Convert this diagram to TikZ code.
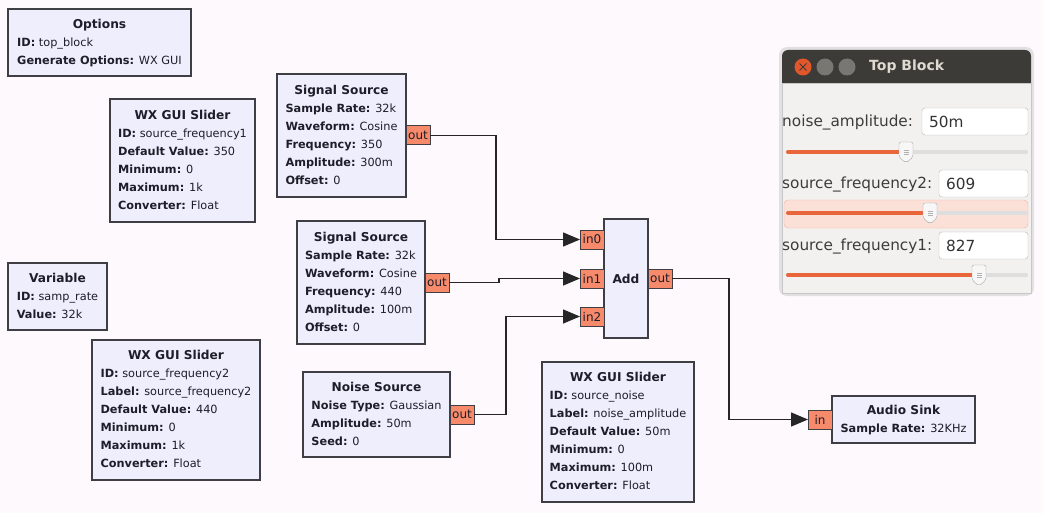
\documentclass[tikz,border=0pt]{standalone}
\usepackage{fontspec}
\setmainfont{DejaVu Sans}
\usetikzlibrary{positioning, arrows.meta}
\definecolor{canvas}{RGB}{253,249,253}
\definecolor{blkfill}{RGB}{238,238,252}
\definecolor{blkline}{RGB}{62,62,68}
\definecolor{blktext}{RGB}{30,30,42}
\definecolor{portfill}{RGB}{246,138,106}
\definecolor{wintitle}{RGB}{60,59,55}
\definecolor{winbody}{RGB}{242,241,240}
\definecolor{wintext}{RGB}{223,219,210}
\definecolor{closered}{RGB}{226,86,44}
\definecolor{btngrey}{RGB}{120,119,114}
\definecolor{uiorange}{RGB}{233,102,58}
\definecolor{labeltext}{RGB}{60,60,60}
\newcommand{\grcblk}[2]{\begin{tabular}{@{}l@{}}\multicolumn{1}{@{}c@{}}{\fontsize{12.2}{18}\selectfont\bfseries #1}\\#2\end{tabular}}

\begin{document}
\begin{tikzpicture}[x=1pt, y=-1pt,
  blk/.style={draw=blkline, fill=blkfill, line width=1.1pt, inner sep=0pt, outer sep=0pt,
              text=blktext, font=\fontsize{11.3}{18}\selectfont},
  port/.style={draw=blkline, fill=portfill, line width=1pt, inner sep=0pt, outer sep=0pt,
               minimum width=24pt, minimum height=19pt, text=blktext, font=\fontsize{12}{13}\selectfont},
  wire/.style={line width=1.3pt, black!85},
  arr/.style={wire, -{Triangle[length=17pt, width=14pt]}},
  uilabel/.style={anchor=west, inner sep=0pt, text=labeltext, font=\fontsize{15.3}{18}\selectfont},
]
\useasboundingbox (0,0) rectangle (1043,513);
\fill[canvas] (0,0) rectangle (1043,513);

% Variables and options
\node[blk, minimum width=183pt, minimum height=67pt] (opts) at (99.5,42.5)
  {\grcblk{Options}{\textbf{ID:} top\_block\\\textbf{Generate Options:} WX GUI}};
\node[blk, minimum width=99pt, minimum height=67pt] (var) at (57.5,296.5)
  {\grcblk{Variable}{\textbf{ID:} samp\_rate\\\textbf{Value:} 32k}};

% Sliders
\node[blk, minimum width=145pt, minimum height=123pt] (sld1) at (182.5,160.5)
  {\grcblk{WX GUI Slider}{\textbf{ID:} source\_frequency1\\\textbf{Default Value:} 350\\
   \textbf{Minimum:} 0\\\textbf{Maximum:} 1k\\\textbf{Converter:} Float}};
\node[blk, minimum width=168pt, minimum height=140pt] (sld2) at (176,410)
  {\grcblk{WX GUI Slider}{\textbf{ID:} source\_frequency2\\\textbf{Label:} source\_frequency2\\
   \textbf{Default Value:} 440\\\textbf{Minimum:} 0\\\textbf{Maximum:} 1k\\\textbf{Converter:} Float}};
\node[blk, minimum width=152pt, minimum height=140pt] (sld3) at (618,432)
  {\grcblk{WX GUI Slider}{\textbf{ID:} source\_noise\\\textbf{Label:} noise\_amplitude\\
   \textbf{Default Value:} 50m\\\textbf{Minimum:} 0\\\textbf{Maximum:} 100m\\\textbf{Converter:} Float}};

% Sources
\node[blk, minimum width=129pt, minimum height=123pt] (sig1) at (341.5,135.5)
  {\grcblk{Signal Source}{\textbf{Sample Rate:} 32k\\\textbf{Waveform:} Cosine\\
   \textbf{Frequency:} 350\\\textbf{Amplitude:} 300m\\\textbf{Offset:} 0}};
\node[blk, minimum width=128pt, minimum height=123pt] (sig2) at (361,282.5)
  {\grcblk{Signal Source}{\textbf{Sample Rate:} 32k\\\textbf{Waveform:} Cosine\\
   \textbf{Frequency:} 440\\\textbf{Amplitude:} 100m\\\textbf{Offset:} 0}};
\node[blk, minimum width=147pt, minimum height=85pt] (noise) at (376.5,414.5)
  {\grcblk{Noise Source}{\textbf{Noise Type:} Gaussian\\\textbf{Amplitude:} 50m\\\textbf{Seed:} 0}};

% Adder and sink
\node[blk, minimum width=44pt, minimum height=119pt, font=\fontsize{12.2}{18}\selectfont\bfseries] (add) at (626,278.5) {Add};
\node[blk, minimum width=143pt, minimum height=47pt] (sink) at (903.5,419.5)
  {\grcblk{Audio Sink}{\textbf{Sample Rate:} 32KHz}};

% Ports
\node[port, right=0pt of sig1] (sig1out) {out};
\node[port, right=0pt of sig2] (sig2out) {out};
\node[port, right=0pt of noise] (noiseout) {out};
\node[port, right=0pt of add] (addout) {out};
\node[port, left=0pt of add.west, yshift=39pt] (addin0) {in0};
\node[port, left=0pt of add.west] (addin1) {in1};
\node[port, left=0pt of add.west, yshift=-38pt] (addin2) {in2};
\node[port, left=0pt of sink] (sinkin) {in};

% Connections
\draw[arr] (sig1out.east) -- ++(66,0) |- (addin0.west);
\draw[arr] (sig2out.east) -- ++(50,0) |- (addin1.west);
\draw[arr] (noiseout.east) -- ++(32,0) |- (addin2.west);
\draw[arr] (addout.east) -- ++(57,0) |- (sinkin.west);

% Top Block window
\fill[black!30, opacity=0.35, rounded corners=8pt] (779,47) rectangle (1034,296);
\fill[wintitle, rounded corners=6pt] (782,50) rectangle (1031,92);
\fill[winbody] (782,83) rectangle (1031,293);
\draw[black!22] (782,83) rectangle (1031,293);
\node[circle, fill=closered, minimum size=17pt, inner sep=0pt] (btnclose) at (803,67) {};
\node[circle, fill=btngrey, minimum size=17pt, inner sep=0pt] (btnmin) at (825,67) {};
\node[circle, fill=btngrey, minimum size=17pt, inner sep=0pt] (btnmax) at (847,67) {};
\draw[wintitle, line width=1pt] (799.5,63.5) -- (806.5,70.5) (806.5,63.5) -- (799.5,70.5);
\draw[wintitle!70, line width=1.2pt] (821,67) -- (829,67);
\draw[wintitle!70, line width=1pt] (843.5,63.5) rectangle (850.5,70.5);
\node[anchor=west, inner sep=0pt, text=wintext, font=\fontsize{14}{16}\selectfont\bfseries] (wtitle) at (869,67) {Top Block};

\draw[fill=uiorange!20, draw=uiorange!50, rounded corners=4pt] (784,200) rectangle (1028,228);

\foreach \ly/\lab/\fx/\val in {122/noise\_amplitude:/922/50m, 184/source\_frequency2:/939/609, 246/source\_frequency1:/939/827}{
  \node[uilabel] (lab\ly) at (782,\ly) {\lab};
  \draw[fill=white, draw=black!28, rounded corners=3pt] (\fx,\ly-14) rectangle (1028,\ly+13);
  \node[uilabel, text=black!80] (val\ly) at (\fx+7,\ly) {\val};
}

\foreach \ty/\kx in {152/906, 213/930, 275/979}{
  \draw[line width=4pt, black!13, line cap=round] (788,\ty) -- (1026,\ty);
  \draw[line width=4pt, uiorange, line cap=round] (788,\ty) -- (\kx,\ty);
  \draw[fill=black!3, draw=black!35, rounded corners=2pt]
    (\kx-7,\ty-10) -- (\kx+7,\ty-10) -- (\kx+7,\ty+5) -- (\kx,\ty+11) -- (\kx-7,\ty+5) -- cycle;
  \foreach \g in {-2,0,2}
    \draw[black!30, line width=0.6pt] (\kx-2.5,\ty+\g) -- (\kx+2.5,\ty+\g);
}
\end{tikzpicture}
\end{document}
